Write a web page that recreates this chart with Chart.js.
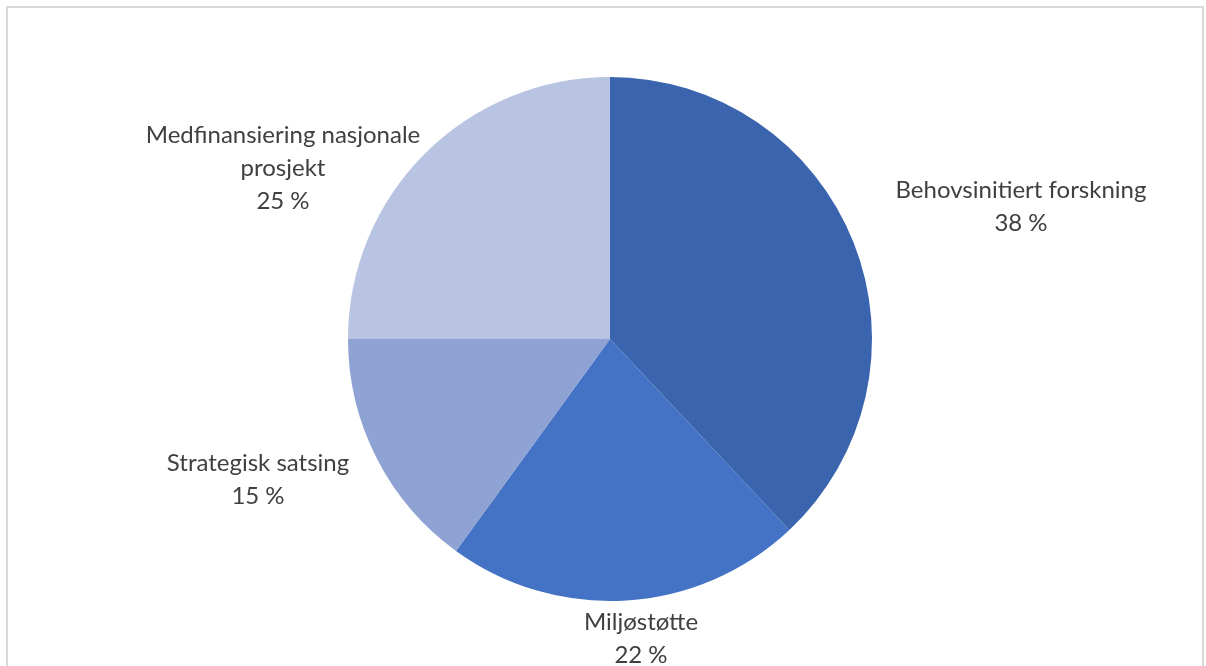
<!DOCTYPE html>
<html>
<head>
<meta charset="utf-8">
<script src="https://cdn.jsdelivr.net/npm/chart.js@4.4.1/dist/chart.umd.min.js"></script>
<style>
html,body{margin:0;padding:0;background:#fff;}
#wrap{position:relative;width:1206px;height:666px;}
</style>
</head>
<body>
<div id="wrap"><canvas id="c" width="1206" height="666"></canvas></div>
<script>
const categories = ["Behovsinitiert forskning", "Miljøstøtte", "Strategisk satsing", "Medfinansiering nasjonale prosjekt"];
const shares = [38, 22, 15, 25];
const labelLines = [["Behovsinitiert forskning"], ["Miljøstøtte"], ["Strategisk satsing"], ["Medfinansiering nasjonale", "prosjekt"]];
const sliceColors = ["#3A64AD", "#4472C4", "#8FA2D4", "#B9C3E2"];
// label block centre positions (x, first-line y)
const labelPos = [[1021, 190], [641, 622], [258, 463], [283, 135]];

const framePlugin = {
  id: 'frame',
  beforeDraw(chart) {
    const ctx = chart.ctx;
    ctx.save();
    ctx.fillStyle = '#fff';
    ctx.fillRect(0, 0, chart.width, chart.height);
    ctx.strokeStyle = '#D9D9D9';
    ctx.lineWidth = 2;
    ctx.strokeRect(7, 7, 1196, 700);
    ctx.restore();
  }
};

const labelPlugin = {
  id: 'pieLabels',
  afterDatasetsDraw(chart) {
    const ctx = chart.ctx;
    ctx.save();
    ctx.fillStyle = '#404040';
    ctx.font = '24px Lato, "Open Sans", sans-serif';
    ctx.textAlign = 'center';
    ctx.textBaseline = 'middle';
    const lh = 33;
    labelLines.forEach((lines, i) => {
      const [x, y] = labelPos[i];
      const all = lines.concat([shares[i] + ' %']);
      all.forEach((t, k) => ctx.fillText(t, x, y + k * lh));
    });
    ctx.restore();
  }
};

new Chart(document.getElementById('c'), {
  type: 'pie',
  data: {
    labels: categories,
    datasets: [{
      data: shares,
      backgroundColor: sliceColors,
      borderWidth: 0
    }]
  },
  options: {
    responsive: false,
    animation: false,
    layout: { padding: { left: 348, right: 334, top: 77, bottom: 65 } },
    plugins: { legend: { display: false }, tooltip: { enabled: false } }
  },
  plugins: [framePlugin, labelPlugin]
});
</script>
</body>
</html>
